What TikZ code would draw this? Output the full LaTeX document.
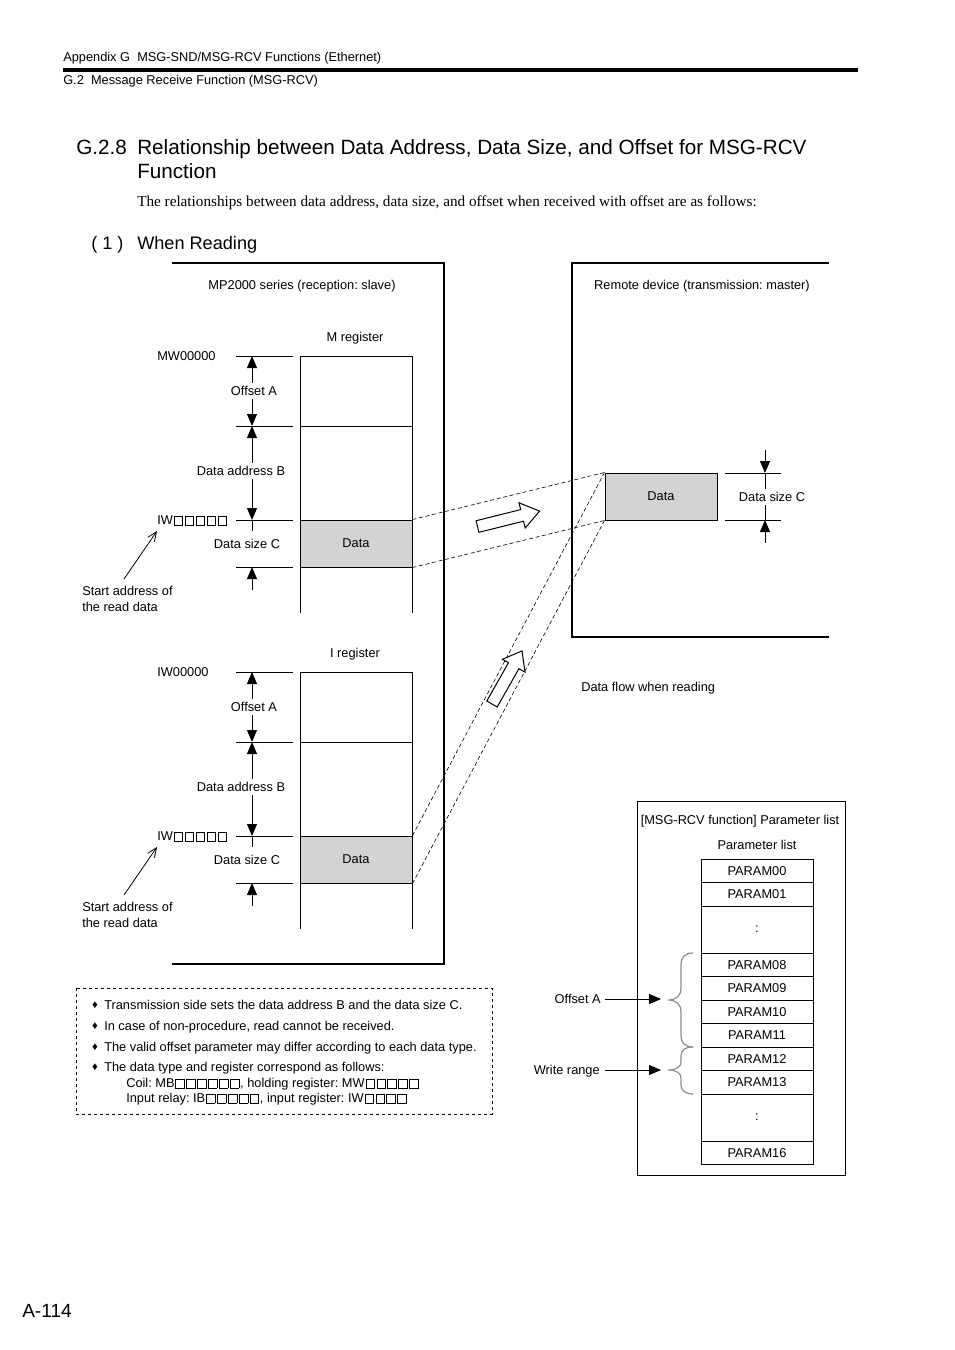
\documentclass[tikz,border=0pt]{standalone}
\usepackage{fontspec}
\setmainfont{Liberation Sans}
\newfontfamily\seriffont{Liberation Serif}
\usetikzlibrary{arrows.meta}
\frenchspacing
\definecolor{datagray}{RGB}{211,211,211}
\definecolor{bracegray}{RGB}{140,140,140}
\newcommand\wsq{\kern0.65pt{\setlength{\fboxsep}{0pt}\setlength{\fboxrule}{0.45pt}\fbox{\rule{0pt}{6pt}\rule{6pt}{0pt}}}\kern0.65pt}
\tikzset{
  lbl/.style={inner sep=0pt, font=\fontsize{9.6}{11.5}\selectfont, text height=6.87pt, text depth=0pt},
  wlbl/.style={lbl, fill=white, inner xsep=1.5pt, inner ysep=2.5pt},
  ln/.style={line width=0.75pt},
  tri/.tip={Triangle[length=9pt,width=7.5pt]},
  dimarrow/.style={-tri, line width=0.75pt},
  dimboth/.style={tri-tri, line width=0.75pt},
  ptr/.style={-{Straight Barb[length=7pt,width=6pt]}, line width=0.6pt},
  flow/.style={dash pattern=on 3pt off 2pt, line width=0.45pt},
  databox/.style={draw, line width=0.75pt, fill=datagray, minimum width=84pt, minimum height=35.25pt, inner sep=0pt, font=\fontsize{9.6}{11.5}\selectfont},
  cell/.style={draw, line width=0.75pt, minimum width=84pt, minimum height=17.625pt, inner sep=0pt, font=\fontsize{9.6}{11.5}\selectfont},
  bigcell/.style={cell, minimum height=35.25pt},
  hollow/.style={draw, fill=white, line width=0.75pt, line join=miter},
  bracestyle/.style={draw=bracegray, line width=0.9pt},
}
\begin{document}
\frenchspacing
\begin{tikzpicture}[x=0.75pt,y=-0.75pt]
\useasboundingbox (0,0) rectangle (954,1350);
\fill[white] (0,0) rectangle (954,1350);

% ---- header ----
\node[anchor=west, inner sep=0pt, font=\fontsize{9.6}{11}\selectfont, text height=6.87pt, text depth=0pt] (hdr1) at (63,57) {Appendix G\ \ MSG-SND/MSG-RCV Functions (Ethernet)};
\draw[line width=3pt] (63,70) -- (858,70);
\node[anchor=west, inner sep=0pt, font=\fontsize{9.6}{11}\selectfont, text height=6.87pt, text depth=0pt] (hdr2) at (63,80) {G.2\ \ Message Receive Function (MSG-RCV)};

% ---- title ----
\node[anchor=west, inner sep=0pt, font=\fontsize{15.5}{18}\selectfont, text height=11.1pt, text depth=0pt] (tnum) at (76,147) {G.2.8};
\node[anchor=west, inner sep=0pt, font=\fontsize{15.5}{18}\selectfont, text height=11.1pt, text depth=0pt] (tline1) at (137,147) {Relationship between Data Address, Data Size, and Offset for MSG-RCV};
\node[anchor=west, inner sep=0pt, font=\fontsize{15.5}{18}\selectfont, text height=11.1pt, text depth=0pt] (tline2) at (137,171) {Function};
\node[anchor=west, inner sep=0pt, font=\seriffont\fontsize{11.4}{13}\selectfont, text height=7.5pt, text depth=0pt] (intro) at (137,201) {The relationships between data address, data size, and offset when received with offset are as follows:};
\node[anchor=west, inner sep=0pt, font=\fontsize{13.6}{16}\selectfont, text height=9.74pt, text depth=0pt] (secnum) at (91,243) {( 1 )};
\node[anchor=west, inner sep=0pt, font=\fontsize{13.6}{16}\selectfont, text height=9.74pt, text depth=0pt] (sectitle) at (137,243) {When Reading};

% ---- frames ----
\draw[line width=0.8pt] (172,263) -- (444,263) -- (444,964) -- (172,964);
\draw[line width=0.8pt] (829,263) -- (572,263) -- (572,637) -- (829,637);
\node[lbl] (slavelbl) at (302,285) {MP2000 series (reception: slave)};
\node[lbl] (masterlbl) at (702,285) {Remote device (transmission: master)};

% ---- register columns ----
\foreach \dy/\reg/\base/\nm in {0/M register/MW00000/m, 316/I register/IW00000/i}{
\begin{scope}[shift={(0,\dy)}]
  \node[lbl] (\nm reg) at (355,337) {\reg};
  \draw[ln] (300,613) -- (300,356) -- (412,356) -- (412,613);
  \draw[ln] (300,426) -- (412,426);
  \node[databox] (\nm data) at (356,543.5) {Data};
  \foreach \yy in {356,426,520,567} \draw[ln] (236,\yy) -- (293,\yy);
  \coordinate (\nm d0) at (252,356);
  \coordinate (\nm d1) at (252,426);
  \coordinate (\nm d2) at (252,520);
  \coordinate (\nm d2b) at (252,531);
  \coordinate (\nm d3) at (252,567);
  \coordinate (\nm d4) at (252,590);
  \draw[dimboth] (\nm d0) -- (\nm d1);
  \node[wlbl] (\nm offA) at (254,391) {Offset A};
  \draw[dimboth] (\nm d1) -- (\nm d2);
  \node[wlbl] (\nm addrB) at (241,471) {Data address B};
  \draw[ln] (\nm d2) -- (\nm d2b);
  \draw[dimarrow] (\nm d4) -- (\nm d3);
  \node[lbl] (\nm sizeC) at (247,544) {Data size C};
  \node[lbl, anchor=west] (\nm base) at (157,356) {\base};
  \node[lbl, anchor=west] (\nm iw) at (157,520) {IW\wsq\wsq\wsq\wsq\wsq};
  \coordinate (\nm pA) at (124,579);
  \coordinate (\nm pB) at (157,531);
  \draw[ptr] (\nm pA) -- (\nm pB);
  \node[lbl, anchor=west] (\nm start1) at (82,591) {Start address of};
  \node[lbl, anchor=west] (\nm start2) at (82,607) {the read data};
\end{scope}}

% ---- remote data ----
\node[databox] (rdata) at (661,496.5) {Data};
\draw[ln] (725,473) -- (781,473);
\draw[ln] (725,520) -- (781,520);
\coordinate (rd0) at (765,450);
\coordinate (rd1) at (765,473);
\coordinate (rd2) at (765,520);
\coordinate (rd3) at (765,543);
\draw[ln] (rd1) -- (rd2);
\draw[dimarrow] (rd0) -- (rd1);
\draw[dimarrow] (rd3) -- (rd2);
\node[wlbl, inner xsep=0.5pt] (rsize) at (772,497) {Data size C};

% ---- dashed flow lines ----
\draw[flow] (mdata.north east) -- (rdata.north west);
\draw[flow] (mdata.south east) -- (rdata.south west);
\draw[flow] (idata.north east) -- (rdata.north west);
\draw[flow] (idata.south east) -- (rdata.south west);

% ---- hollow arrows ----
\path[hollow] (476.1,520.7) -- (520.7,509.6) -- (519.0,502.8) -- (539.6,511.1) -- (525.2,528.0) -- (523.5,521.2) -- (478.9,532.3) -- cycle;
\path[hollow] (486.8,701.0) -- (508.5,662.7) -- (502.4,659.3) -- (522.0,650.9) -- (525.0,672.1) -- (518.9,668.7) -- (497.2,707.0) -- cycle;

\node[lbl, anchor=west] (flowlbl) at (581,687) {Data flow when reading};

% ---- parameter list ----
\draw[ln] (637,801) rectangle (845,1175);
\node[lbl] (plist1) at (740,820) {[MSG-RCV function] Parameter list};
\node[lbl] (plist2) at (757,845) {Parameter list};
\node[cell] (p00) at (757,870.75) {PARAM00};
\node[cell] (p01) at (757,894.25) {PARAM01};
\node[bigcell] (pd1) at (757,929.5) {:};
\node[cell] (p08) at (757,964.75) {PARAM08};
\node[cell] (p09) at (757,988.25) {PARAM09};
\node[cell] (p10) at (757,1011.75) {PARAM10};
\node[cell] (p11) at (757,1035.25) {PARAM11};
\node[cell] (p12) at (757,1058.75) {PARAM12};
\node[cell] (p13) at (757,1082.25) {PARAM13};
\node[bigcell] (pd2) at (757,1117.5) {:};
\node[cell] (p16) at (757,1152.75) {PARAM16};

\path[bracestyle] (693,953) .. controls (685,953) and (681,957) .. (681,965) -- (681,988) .. controls (681,996) and (676,1000) .. (668,1000) .. controls (676,1000) and (681,1004) .. (681,1012) -- (681,1035) .. controls (681,1043) and (685,1047) .. (693,1047);
\path[bracestyle] (693,1047) .. controls (685,1047) and (681,1050) .. (681,1056) -- (681,1062) .. controls (681,1067) and (676,1070) .. (668,1070) .. controls (676,1070) and (681,1073) .. (681,1078) -- (681,1085) .. controls (681,1090) and (685,1094) .. (693,1094);

\node[lbl, anchor=east] (offAlbl) at (601,999) {Offset A};
\coordinate (offAtip) at (661,999);
\draw[dimarrow] ([xshift=3pt]offAlbl.east) -- (offAtip);
\node[lbl, anchor=east] (wrlbl) at (600,1070) {Write range};
\coordinate (wrtip) at (661,1070);
\draw[dimarrow] ([xshift=3.75pt]wrlbl.east) -- (wrtip);

% ---- note box ----
\draw[ln, dash pattern=on 2.5pt off 2pt] (76,988) rectangle (492,1114);
\foreach \yy/\tx/\k in {1005/Transmission side sets the data address B and the data size C./1, 1026/{In case of non-procedure, read cannot be received.}/2, 1047/The valid offset parameter may differ according to each data type./3, 1067/The data type and register correspond as follows:/4}{
  \node[inner sep=0pt, font=\fontsize{8.5}{9}\selectfont] (bul\k) at (95,\yy+0.5) {♦};
  \node[lbl, anchor=west] (note\k) at (104,\yy) {\tx};
}
\node[lbl, anchor=west] (note5) at (126,1083) {Coil: MB\wsq\wsq\wsq\wsq\wsq\wsq, holding register: MW\wsq\wsq\wsq\wsq\wsq};
\node[lbl, anchor=west] (note6) at (126,1098) {Input relay: IB\wsq\wsq\wsq\wsq\wsq, input register: IW\wsq\wsq\wsq\wsq};

% ---- page number ----
\node[anchor=west, inner sep=0pt, font=\fontsize{14.3}{16}\selectfont, text height=10.24pt, text depth=0pt] (pageno) at (22,1311) {A-114};
\end{tikzpicture}
\end{document}
